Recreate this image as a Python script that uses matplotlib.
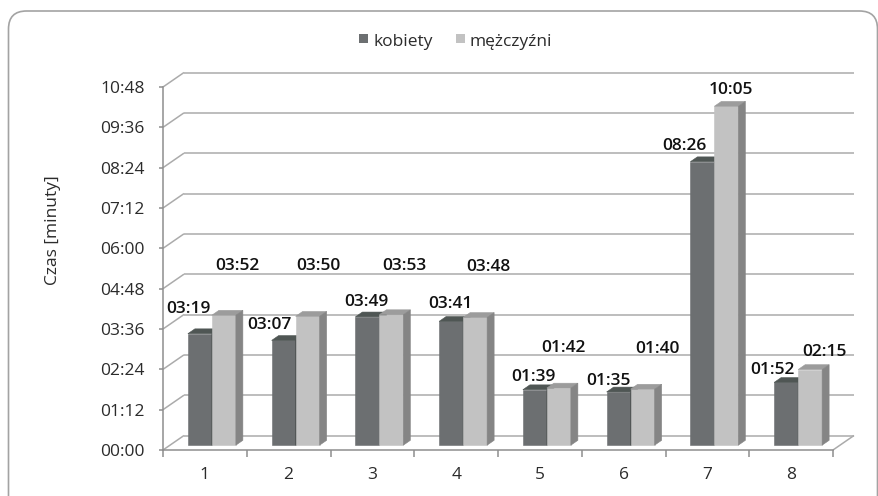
import numpy as np
import matplotlib
matplotlib.use("Agg")
import matplotlib.pyplot as plt
from matplotlib.patches import Polygon, Rectangle, FancyBboxPatch
from matplotlib.lines import Line2D
from matplotlib.transforms import ScaledTranslation, IdentityTransform

# ---- data -------------------------------------------------------------
categories = ["1", "2", "3", "4", "5", "6", "7", "8"]
women_times = ["03:19", "03:07", "03:49", "03:41", "01:39", "01:35", "08:26", "01:52"]
men_times = ["03:52", "03:50", "03:53", "03:48", "01:42", "01:40", "10:05", "02:15"]
series_names = ["kobiety", "mężczyźni"]
y_label = "Czas [minuty]"
y_max_sec = 648
y_step_sec = 72

# label placement (pixel offsets from the top-centre of each bar's front face)
women_lbl_dx = [-11, -14, -1, -1, -1, -10, -18, -14]
women_lbl_dy = [27, 18, 17, 20, 15, 13, 18, 15]
men_lbl_dx = [14, 11, 13, 13, 5, 15, 5, 14]
men_lbl_dy = [52, 53, 51, 53, 42, 43, 19, 20]


def to_seconds(t):
    m, s = t.split(":")
    return int(m) * 60 + int(s)


def mmss(sec):
    sec = int(round(sec))
    return f"{sec // 60:02d}:{sec % 60:02d}"


women = [to_seconds(t) for t in women_times]
men = [to_seconds(t) for t in men_times]

# ---- style ------------------------------------------------------------
W, H, DPI = 879, 496, 100
FONT = ["Open Sans", "DejaVu Sans"]
plt.rcParams["font.family"] = FONT

DARK_FRONT, DARK_TOP, DARK_SIDE = "#6c6f71", "#4f5654", "#4a4f4e"
LIGHT_FRONT, LIGHT_TOP, LIGHT_SIDE = "#c2c2c2", "#9c9c9c", "#858585"
GRID_COL = "#ababab"
AXIS_COL = "#8e8e8e"
TEXT_COL = "#2b2b2b"

DEPTH = np.array([21.0, 14.5])     # back-wall offset in pixels
BAR_OFF = DEPTH / 3.0              # bars sit one third into the depth
BAR_DEPTH = DEPTH / 3.0

fig = plt.figure(figsize=(W / DPI, H / DPI), dpi=DPI)
fig.patch.set_facecolor("white")

ax = fig.add_axes([163 / W, (H - 450) / H, 670 / W, 363 / H])
ax.patch.set_visible(False)

n = len(categories)
bar_w = 24 / 83.75
x = np.arange(n)

bar_trans = ax.transData + ScaledTranslation(BAR_OFF[0] / DPI, BAR_OFF[1] / DPI,
                                             fig.dpi_scale_trans)

dark_left = x + 0.5 - bar_w
light_left = x + 0.5

ax.bar(dark_left, women, width=bar_w, align="edge", transform=bar_trans,
       color=DARK_FRONT, edgecolor=DARK_FRONT, linewidth=0.4, zorder=3)
ax.bar(light_left, men, width=bar_w, align="edge", transform=bar_trans,
       color=LIGHT_FRONT, edgecolor=LIGHT_FRONT, linewidth=0.4, zorder=4)

ax.set_xlim(0, n)
ax.set_ylim(0, y_max_sec)


def disp(xv, yv):
    return np.asarray(ax.transData.transform((xv, yv)), dtype=float)


def add_line(p0, p1, color, lw, z=1):
    ln = Line2D([p0[0], p1[0]], [p0[1], p1[1]], color=color, linewidth=lw,
                transform=IdentityTransform(), clip_on=False, zorder=z,
                solid_capstyle="butt")
    ax.add_artist(ln)


def add_poly(pts, color, z):
    pg = Polygon(pts, closed=True, facecolor=color, edgecolor=color,
                 linewidth=0.4, transform=IdentityTransform(), clip_on=False,
                 zorder=z)
    ax.add_artist(pg)


# back wall grid and left wall diagonals
yticks = np.arange(0, y_max_sec + 1, y_step_sec)
for yv in yticks:
    p_left = disp(0, yv)
    p_right = disp(n, yv)
    add_line(p_left, p_left + DEPTH, GRID_COL, 1.1)
    add_line(p_left + DEPTH, p_right + DEPTH, GRID_COL, 1.1)
# floor right edge
add_line(disp(n, 0), disp(n, 0) + DEPTH, GRID_COL, 1.1)

# top and side faces of the columns
for lefts, vals, top_c, side_c, z in ((dark_left, women, DARK_TOP, DARK_SIDE, 3),
                                      (light_left, men, LIGHT_TOP, LIGHT_SIDE, 4)):
    for xl, v in zip(lefts, vals):
        fl = disp(xl, v) + BAR_OFF
        fr = disp(xl + bar_w, v) + BAR_OFF
        br = disp(xl + bar_w, 0) + BAR_OFF
        add_poly([fl, fr, fr + BAR_DEPTH, fl + BAR_DEPTH], top_c, z)
        add_poly([fr, br, br + BAR_DEPTH, fr + BAR_DEPTH], side_c, z)

# value labels
BASE_SHIFT = 6.4
for lefts, vals, texts, dxs, dys in ((dark_left, women, women_times, women_lbl_dx, women_lbl_dy),
                                     (light_left, men, men_times, men_lbl_dx, men_lbl_dy)):
    for xl, v, t, dx, dy in zip(lefts, vals, texts, dxs, dys):
        ax.annotate(t, xy=(xl + bar_w / 2, v), xycoords=bar_trans,
                    xytext=(dx, dy - BASE_SHIFT), textcoords="offset pixels",
                    ha="center", va="baseline", fontsize=12.5, fontweight="semibold",
                    color="#111111", annotation_clip=False, zorder=6)

# axes, ticks
for s in ("top", "right"):
    ax.spines[s].set_visible(False)
for s in ("left", "bottom"):
    ax.spines[s].set_color(AXIS_COL)
    ax.spines[s].set_linewidth(1.1)
    ax.spines[s].set_zorder(2)

ax.set_yticks(yticks)
ax.set_yticklabels([mmss(v) for v in yticks])
ax.set_xticks(np.arange(0, n + 1))
ax.set_xticklabels([])
ax.set_xticks(x + 0.5, minor=True)
ax.set_xticklabels(categories, minor=True)

ax.tick_params(axis="y", length=3, width=1.1, color=AXIS_COL, pad=10,
               labelsize=12.5, labelcolor=TEXT_COL)
ax.tick_params(axis="x", which="major", length=5, width=1.1, color=AXIS_COL)
ax.tick_params(axis="x", which="minor", length=0, pad=12,
               labelsize=12.5, labelcolor=TEXT_COL)

# y-axis title
fig.text(53 / W, 1 - 230 / H, y_label, rotation=90, ha="center", va="center",
         fontsize=12.5, color=TEXT_COL)

# legend
def fig_px(px, py_top):
    return px / W, 1 - py_top / H

sq = 9
for (x0, text_x), col, name in zip(((359, 374), (456, 470)),
                                   (DARK_FRONT, LIGHT_FRONT), series_names):
    fx, fy = fig_px(x0, 43)
    fig.add_artist(Rectangle((fx, fy), sq / W, sq / H, transform=fig.transFigure,
                             facecolor=col, edgecolor="none"))
    tx, ty = fig_px(text_x, 45.5)
    fig.text(tx, ty, name, ha="left", va="baseline", fontsize=12.5, color=TEXT_COL)

# rounded frame
frame = FancyBboxPatch((8.5, -20), 877.5 - 8.5, (H - 11) + 20,
                       boxstyle="round,pad=0,rounding_size=18",
                       transform=IdentityTransform(), facecolor="none",
                       edgecolor="#a3a3a3", linewidth=1.2, zorder=-1)
fig.add_artist(frame)

fig.savefig("out.png", dpi=DPI)
